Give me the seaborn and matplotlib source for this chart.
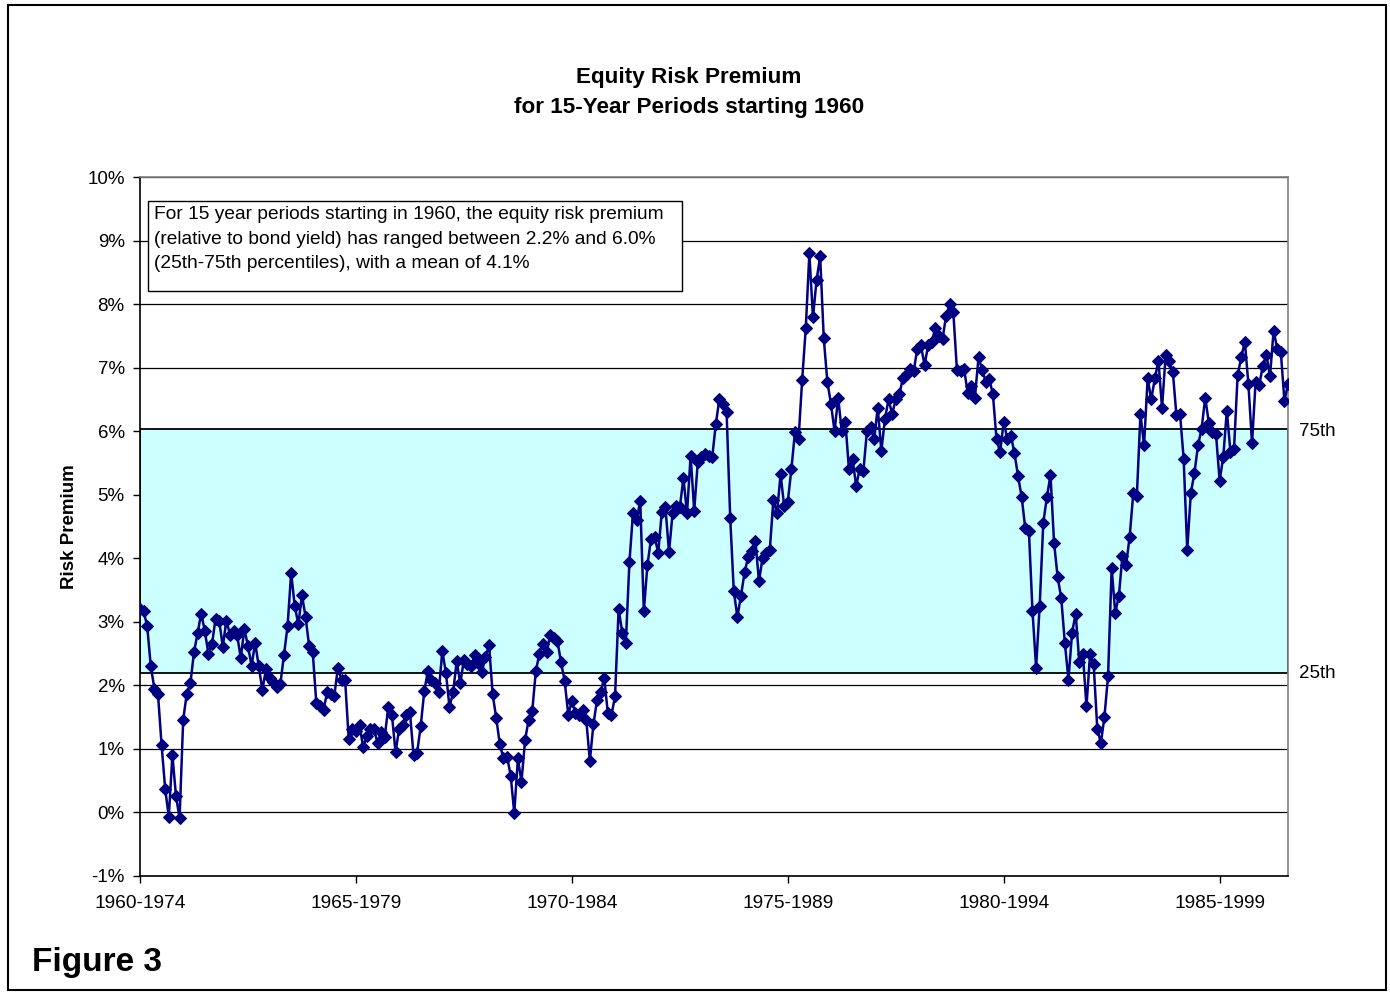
import matplotlib
matplotlib.use("Agg")
import matplotlib.pyplot as plt
from matplotlib.patches import Rectangle
import seaborn as sns
import numpy as np
import pandas as pd


# monthly equity risk premium (%), 15-year periods starting 1960
premium = [
    3.20, 3.17, 2.93, 2.30, 1.95, 1.86, 1.06, 0.37, -0.07, 0.90,
    0.26, -0.09, 1.46, 1.87, 2.03, 2.52, 2.82, 3.13, 2.86, 2.50,
    2.65, 3.05, 3.02, 2.61, 3.02, 2.80, 2.85, 2.79, 2.43, 2.89,
    2.62, 2.31, 2.67, 2.30, 1.93, 2.25, 2.12, 2.05, 1.98, 2.02,
    2.47, 2.93, 3.77, 3.25, 2.96, 3.42, 3.08, 2.62, 2.52, 1.72,
    1.68, 1.62, 1.89, 1.86, 1.84, 2.28, 2.09, 2.08, 1.15, 1.32,
    1.28, 1.37, 1.03, 1.20, 1.32, 1.31, 1.10, 1.26, 1.19, 1.66,
    1.54, 0.95, 1.31, 1.37, 1.54, 1.58, 0.91, 0.94, 1.36, 1.91,
    2.23, 2.08, 2.03, 1.89, 2.54, 2.20, 1.66, 1.89, 2.38, 2.03,
    2.40, 2.33, 2.30, 2.47, 2.35, 2.21, 2.45, 2.63, 1.86, 1.48,
    1.07, 0.85, 0.88, 0.58, -0.01, 0.85, 0.48, 1.14, 1.46, 1.60,
    2.23, 2.50, 2.65, 2.52, 2.80, 2.75, 2.70, 2.36, 2.07, 1.54,
    1.75, 1.57, 1.53, 1.61, 1.46, 0.81, 1.39, 1.77, 1.89, 2.12,
    1.56, 1.53, 1.83, 3.20, 2.83, 2.67, 3.94, 4.72, 4.60, 4.90,
    3.17, 3.89, 4.31, 4.33, 4.09, 4.73, 4.80, 4.10, 4.71, 4.82,
    4.80, 5.26, 4.71, 5.61, 4.75, 5.52, 5.59, 5.64, 5.61, 5.59,
    6.11, 6.51, 6.43, 6.30, 4.64, 3.48, 3.08, 3.41, 3.78, 4.02,
    4.12, 4.27, 3.64, 4.01, 4.08, 4.13, 4.92, 4.71, 5.32, 4.82,
    4.89, 5.40, 5.99, 5.88, 6.81, 7.62, 8.80, 7.79, 8.38, 8.75,
    7.46, 6.78, 6.43, 6.00, 6.53, 6.00, 6.15, 5.40, 5.56, 5.14,
    5.41, 5.37, 6.00, 6.07, 5.87, 6.37, 5.69, 6.19, 6.50, 6.27,
    6.50, 6.58, 6.84, 6.90, 6.98, 6.95, 7.30, 7.35, 7.04, 7.35,
    7.41, 7.62, 7.50, 7.45, 7.82, 8.00, 7.87, 6.97, 6.95, 6.98,
    6.60, 6.71, 6.53, 7.16, 6.97, 6.78, 6.82, 6.58, 5.88, 5.67,
    6.15, 5.88, 5.93, 5.65, 5.29, 4.96, 4.47, 4.43, 3.17, 2.28,
    3.25, 4.56, 4.96, 5.31, 4.24, 3.70, 3.37, 2.66, 2.09, 2.83,
    3.13, 2.37, 2.49, 1.67, 2.49, 2.33, 1.32, 1.09, 1.51, 2.15,
    3.84, 3.14, 3.41, 4.04, 3.89, 4.34, 5.02, 4.98, 6.27, 5.78,
    6.83, 6.50, 6.83, 7.11, 6.36, 7.20, 7.10, 6.93, 6.25, 6.27,
    5.57, 4.13, 5.03, 5.34, 5.78, 6.04, 6.53, 6.13, 5.99, 5.95,
    5.22, 5.59, 6.32, 5.68, 5.72, 6.88, 7.16, 7.41, 6.74, 5.81,
    6.78, 6.72, 7.03, 7.20, 6.87, 7.58, 7.30, 7.25, 6.48, 6.74,
]

period_labels = ["1960-1974", "1965-1979", "1970-1984", "1975-1989", "1980-1994", "1985-1999"]
period_months = [0, 60, 120, 180, 240, 300]
y_ticks = list(range(-1, 11))
pct_25 = 2.2
pct_75 = 6.03

note_lines = [
    "For 15 year periods starting in 1960, the equity risk premium",
    "(relative to bond yield) has ranged between 2.2% and 6.0%",
    "(25th-75th percentiles), with a mean of 4.1%",
]

sns.set_style("white")
plt.rcParams["font.family"] = ["Liberation Sans", "DejaVu Sans"]
plt.rcParams["text.color"] = "black"
plt.rcParams["axes.labelcolor"] = "black"
plt.rcParams["xtick.color"] = "black"
plt.rcParams["ytick.color"] = "black"

W, H = 1390, 993
fig = plt.figure(figsize=(W / 100, H / 100), dpi=100)
ax = fig.add_axes([140 / W, 1 - 876 / H, (1288 - 140) / W, (876 - 177) / H])

df = pd.DataFrame({"month": np.arange(len(premium)), "premium": premium})

for v in y_ticks:
    ax.axhline(v, color="black", linewidth=0.9, zorder=0.5)
ax.axhspan(pct_25, pct_75, facecolor="#CCFFFF", edgecolor="black", linewidth=1.3, zorder=1)

sns.lineplot(data=df, x="month", y="premium", ax=ax, color="#000080",
             linewidth=1.8, marker="D", markersize=6.5,
             markeredgecolor="#000080", zorder=3)

ax.set_xlim(0, len(premium) - 1)
ax.set_ylim(-1, 10)
ax.set_xticks(period_months)
ax.set_xticklabels(period_labels, fontsize=13.8)
ax.set_yticks(y_ticks)
ax.set_yticklabels([f"{v}%" for v in y_ticks], fontsize=13.5)
ax.tick_params(axis="x", direction="out", length=5, width=1, pad=9, bottom=True)
ax.tick_params(axis="y", direction="out", length=5, width=1, pad=6, left=True)
ax.set_xlabel("")
ax.set_ylabel("Risk Premium", fontsize=13.5, fontweight="bold")
ax.yaxis.set_label_coords(-0.054, 0.5)

for side in ["left", "bottom"]:
    ax.spines[side].set_color("black")
    ax.spines[side].set_linewidth(1.2)
for side in ["top", "right"]:
    ax.spines[side].set_color("#808080")
    ax.spines[side].set_linewidth(1.2)

fig.text(689 / W, 1 - 78 / H, "Equity Risk Premium", ha="center", va="center",
         fontsize=16.2, fontweight="bold")
fig.text(689 / W, 1 - 107 / H, "for 15-Year Periods starting 1960", ha="center", va="center",
         fontsize=16.2, fontweight="bold")

# note box
fig.patches.append(Rectangle((148 / W, 1 - 291 / H), (682 - 148) / W, (291 - 201) / H,
                             transform=fig.transFigure, facecolor="white",
                             edgecolor="black", linewidth=1.0, zorder=5))
for i, line in enumerate(note_lines):
    fig.text(154 / W, 1 - (215 + 24 * i) / H, line, ha="left", va="center",
             fontsize=13.8, zorder=6)

fig.text(1299 / W, 1 - 432 / H, "75th", ha="left", va="center", fontsize=13.5)
fig.text(1299 / W, 1 - 673 / H, "25th", ha="left", va="center", fontsize=13.5)

fig.text(32 / W, 1 - 963 / H, "Figure 3", ha="left", va="center",
         fontsize=24, fontweight="bold")

# outer frame
fig.patches.append(Rectangle((8 / W, 3 / H), (1386 - 8) / W, (988 - 3) / H,
                             transform=fig.transFigure, fill=False,
                             edgecolor="black", linewidth=1.5))

fig.savefig("out.png", dpi=100)
